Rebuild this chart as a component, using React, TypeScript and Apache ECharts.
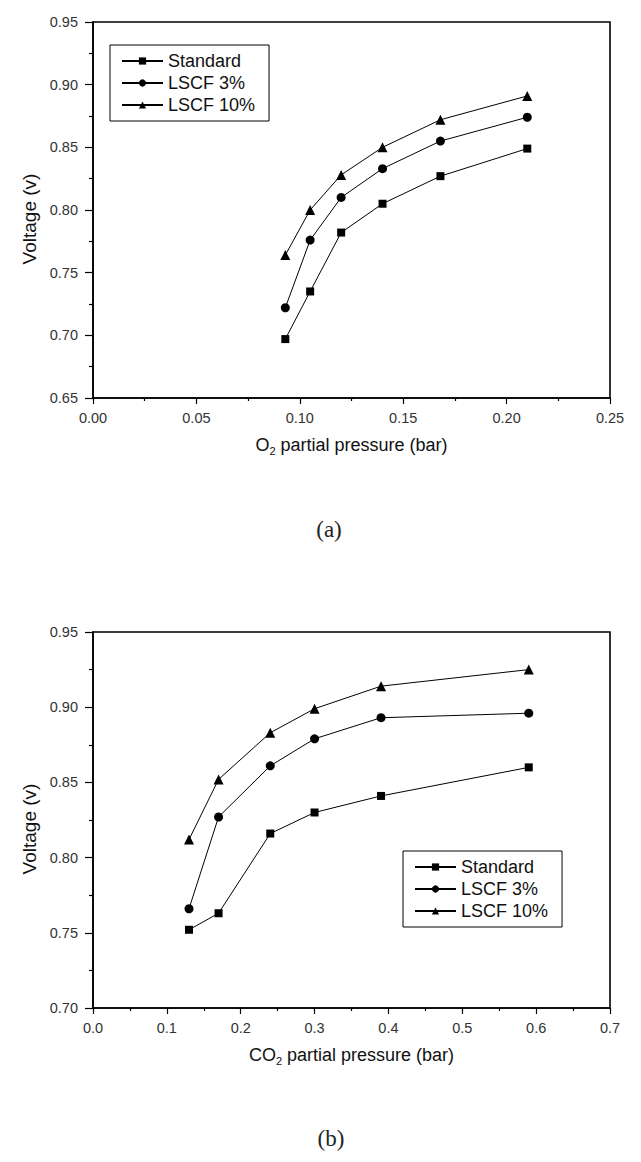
import React, { useEffect, useRef } from "react";
import * as echarts from "echarts";

const seriesNames = ["Standard", "LSCF 3%", "LSCF 10%"];
const symbols = ["rect", "circle", "triangle"];

const o2Pressure = [0.093, 0.105, 0.12, 0.14, 0.168, 0.21];
const o2Standard = [0.697, 0.735, 0.782, 0.805, 0.827, 0.849];
const o2Lscf3 = [0.722, 0.776, 0.81, 0.833, 0.855, 0.874];
const o2Lscf10 = [0.764, 0.8, 0.828, 0.85, 0.872, 0.891];

const co2Pressure = [0.13, 0.17, 0.24, 0.3, 0.39, 0.59];
const co2Standard = [0.752, 0.763, 0.816, 0.83, 0.841, 0.86];
const co2Lscf3 = [0.766, 0.827, 0.861, 0.879, 0.893, 0.896];
const co2Lscf10 = [0.812, 0.852, 0.883, 0.899, 0.914, 0.925];

const FONT = "'Liberation Sans', Arial, sans-serif";

function pairs(xs: number[], ys: number[]) {
  return xs.map((x, i) => [x, ys[i]]);
}

export default function App() {
  const ref = useRef<HTMLDivElement>(null);
  useEffect(() => {
    if (!ref.current) return;
    const chart = echarts.init(ref.current, null, { renderer: "svg" });

    const xAxisBase = (gridIndex: number, max: number, interval: number, digits: number, title: string) => ({
      type: "value",
      gridIndex,
      min: 0,
      max,
      interval,
      splitLine: { show: false },
      axisLine: { show: true, lineStyle: { color: "#000", width: 1.6 } },
      axisTick: { show: true, inside: false, length: 6, lineStyle: { color: "#000", width: 1.2 } },
      minorTick: { show: true, splitNumber: 2, length: 3, lineStyle: { color: "#000", width: 1.2 } },
      axisLabel: {
        color: "#333",
        fontSize: 14.5,
        fontFamily: FONT,
        margin: 12,
        formatter: (v: number) => v.toFixed(digits),
      },
      name: `{n|${title}}{s|2}{n| partial pressure (bar)}`,
      nameLocation: "middle",
      nameGap: 36,
      nameTextStyle: {
        rich: {
          n: { fontSize: 18, fontFamily: FONT, color: "#111", lineHeight: 22 },
          s: { fontSize: 11, fontFamily: FONT, color: "#111", lineHeight: 22, padding: [11, 0, 0, 0] },
        },
      },
    });

    const yAxisBase = (gridIndex: number, min: number) => ({
      type: "value",
      gridIndex,
      min,
      max: 0.95,
      interval: 0.05,
      splitLine: { show: false },
      axisLine: { show: true, lineStyle: { color: "#000", width: 1.6 } },
      axisTick: { show: true, inside: false, length: 8, lineStyle: { color: "#000", width: 1.2 } },
      minorTick: { show: true, splitNumber: 2, length: 4, lineStyle: { color: "#000", width: 1.2 } },
      axisLabel: {
        color: "#333",
        fontSize: 14.5,
        fontFamily: FONT,
        margin: 15,
        formatter: (v: number) => v.toFixed(2),
      },
      name: "Voltage (v)",
      nameLocation: "middle",
      nameGap: 48,
      nameTextStyle: { fontSize: 19, fontFamily: FONT, color: "#111", padding: [0, 18, 0, 0] },
    });

    const mkSeries = (idx: number, xs: number[], ys: number[], k: number) => ({
      type: "line",
      name: seriesNames[k],
      xAxisIndex: idx,
      yAxisIndex: idx,
      data: pairs(xs, ys),
      symbol: symbols[k],
      symbolSize: k === 2 ? 10 : k === 1 ? 9 : 8,
      showSymbol: true,
      lineStyle: { color: "#000", width: 1 },
      itemStyle: { color: "#000" },
    });

    const legendBase = {
      orient: "vertical",
      borderColor: "#000",
      borderWidth: 1,
      padding: [7, 14, 7, 11],
      itemGap: 4,
      itemWidth: 41,
      itemHeight: 9,
      textStyle: { fontSize: 18, fontFamily: FONT, color: "#111" },
      data: seriesNames,
      selectedMode: false,
    };

    chart.setOption({
      animation: false,
      backgroundColor: "#fff",
      grid: [
        { left: 93, top: 22, width: 517, height: 376, show: true, borderColor: "#000", borderWidth: 1.6, backgroundColor: "transparent" },
        { left: 93, top: 632, width: 517, height: 376, show: true, borderColor: "#000", borderWidth: 1.6, backgroundColor: "transparent" },
      ],
      xAxis: [xAxisBase(0, 0.25, 0.05, 2, "O"), xAxisBase(1, 0.7, 0.1, 1, "CO")],
      yAxis: [yAxisBase(0, 0.65), yAxisBase(1, 0.7)],
      legend: [
        { ...legendBase, left: 110, top: 45 },
        { ...legendBase, left: 403, top: 851 },
      ],
      series: [
        mkSeries(0, o2Pressure, o2Standard, 0),
        mkSeries(0, o2Pressure, o2Lscf3, 1),
        mkSeries(0, o2Pressure, o2Lscf10, 2),
        mkSeries(1, co2Pressure, co2Standard, 0),
        mkSeries(1, co2Pressure, co2Lscf3, 1),
        mkSeries(1, co2Pressure, co2Lscf10, 2),
      ],
      graphic: [
        { type: "text", x: 329, y: 529, style: { text: "(a)", fontSize: 23, fontFamily: "'Liberation Serif', serif", fill: "#222", align: "center", verticalAlign: "middle" } },
        { type: "text", x: 331, y: 1138, style: { text: "(b)", fontSize: 23, fontFamily: "'Liberation Serif', serif", fill: "#222", align: "center", verticalAlign: "middle" } },
      ],
    });
    return () => chart.dispose();
  }, []);
  return <div ref={ref} style={{ position: "fixed", left: 0, top: 0, width: 641, height: 1162, background: "#fff" }} />;
}
